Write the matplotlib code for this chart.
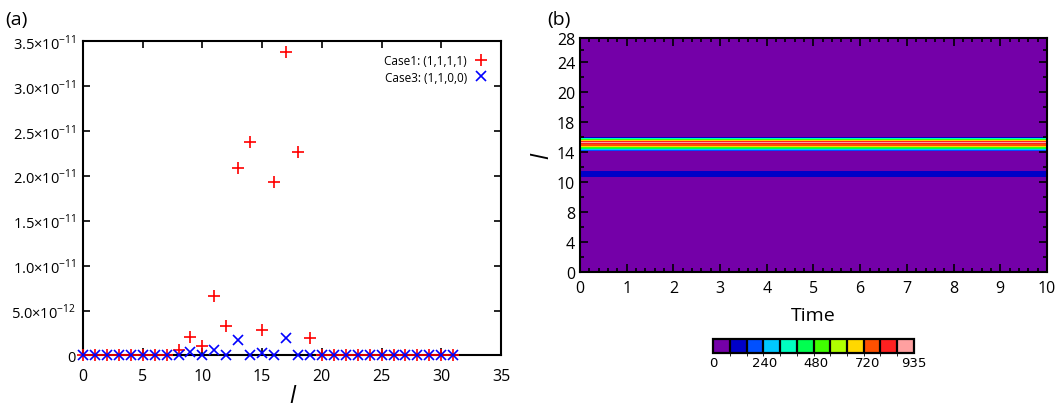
import numpy as np
import matplotlib
matplotlib.use("Agg")
import matplotlib.pyplot as plt
from matplotlib.colors import ListedColormap, BoundaryNorm
from matplotlib.ticker import MultipleLocator

plt.rcParams['font.family'] = ['Open Sans', 'DejaVu Sans']
plt.rcParams['mathtext.fontset'] = 'custom'
plt.rcParams['mathtext.rm'] = 'Open Sans'

# ---- panel (a) data ----
l_vals = np.arange(32)
case1 = np.zeros(32)
case1[8:20] = [0.56e-12, 2.1e-12, 1.1e-12, 6.57e-12, 3.3e-12, 2.09e-11,
               2.38e-11, 2.86e-12, 1.93e-11, 3.38e-11, 2.27e-11, 1.97e-12]
case3 = np.zeros(32)
case3[8:20] = [0, 0.37e-12, 0, 0.56e-12, 0, 1.67e-12,
               0, 0.3e-12, 0, 1.93e-12, 0, 0.07e-12]
yticks_a = [0, 5e-12, 1e-11, 1.5e-11, 2e-11, 2.5e-11, 3e-11, 3.5e-11]
ylabels_a = ['0', '5.0×10$^{-12}$', '1.0×10$^{-11}$', '1.5×10$^{-11}$',
             '2.0×10$^{-11}$', '2.5×10$^{-11}$', '3.0×10$^{-11}$', '3.5×10$^{-11}$']

# ---- panel (b) data ----
time_edges = [0, 10]
row_edges = [0, 11.38, 12.10, 14.49, 14.62, 14.75, 14.88, 15.01, 15.14, 15.27,
             15.40, 15.53, 15.66, 15.79, 15.92, 16.05, 16.17, 28]
row_vals = [0, 120, 0, 200, 300, 420, 520, 650, 720, 800, 920, 830, 680,
            520, 330, 150, 0]
ytick_pos_b = [0, 3.6, 7.2, 10.8, 14.4, 18, 21.6, 25.2, 28]
ytick_lab_b = ['0', '4', '8', '10', '14', '18', '20', '24', '28']
cmap_colors = ['#7400a8', '#0000c8', '#0050ff', '#00c8ff', '#00ffc0', '#00ff50',
               '#40ff00', '#b0ff00', '#ffd800', '#ff5000', '#ff2020', '#ffa0a0']
cbar_ticks = [0, 240, 480, 720, 935]

fig = plt.figure(figsize=(10.57, 4.10), dpi=100)

# panel (a)
ax = fig.add_axes([0.0785, 0.1305, 0.3955, 0.767])
ax.plot(l_vals, case1, ls='none', marker='+', color='#ff0000', ms=9, mew=1.2,
        clip_on=False, label='Case1: (1,1,1,1)', zorder=3)
ax.plot(l_vals, case3, ls='none', marker='x', color='#0000ff', ms=7, mew=1.2,
        clip_on=False, label='Case3: (1,1,0,0)', zorder=4)
ax.set_xlim(0, 35)
ax.set_ylim(0, 3.5e-11)
ax.set_xticks(range(0, 36, 5))
ax.set_yticks(yticks_a)
ax.set_yticklabels(ylabels_a)
ax.tick_params(direction='in', top=True, right=True, length=5, width=1.2,
               labelsize=10.5, pad=5)
ax.tick_params(axis='x', labelsize=11.5, pad=9)
for s in ax.spines.values():
    s.set_linewidth(1.5)
ax.set_xlabel('l', style='italic', fontsize=17, labelpad=0)
ax.legend(loc='upper right', markerfirst=False, frameon=False, fontsize=8.5,
          handlelength=1.2, handletextpad=0.6, labelspacing=0.3,
          borderaxespad=0.7)
fig.text(0.005, 0.94, '(a)', fontsize=14)

# panel (b)
cmap = ListedColormap(cmap_colors)
norm = BoundaryNorm(np.linspace(0, 935, 13), cmap.N)
bx = fig.add_axes([0.5487, 0.3349, 0.4418, 0.5692])
Z = np.array(row_vals, dtype=float).reshape(-1, 1)
mesh = bx.pcolormesh(time_edges, row_edges, Z, cmap=cmap, norm=norm,
                     shading='flat')
bx.set_xlim(0, 10)
bx.set_ylim(0, 28)
bx.set_xticks(range(0, 11))
bx.xaxis.set_minor_locator(MultipleLocator(0.2))
bx.set_yticks(ytick_pos_b)
bx.set_yticklabels(ytick_lab_b)
bx.set_yticks([1.8, 5.4, 9.0, 12.6, 16.2, 19.8, 23.4, 26.6], minor=True)
bx.tick_params(which='both', direction='in', top=True, right=True,
               width=1.2, labelsize=11.5)
bx.tick_params(axis='x', pad=6)
bx.tick_params(which='major', length=6)
bx.tick_params(which='minor', length=3)
for s in bx.spines.values():
    s.set_linewidth(1.5)
bx.set_xlabel('Time', fontsize=14, labelpad=7)
bx.set_ylabel('l', style='italic', fontsize=17, labelpad=2)
fig.text(0.518, 0.94, '(b)', fontsize=14)

cax = fig.add_axes([0.6746, 0.1366, 0.1901, 0.034])
cb = fig.colorbar(mesh, cax=cax, orientation='horizontal', drawedges=True)
cb.outline.set_linewidth(1.6)
cb.dividers.set_linewidth(1.6)
cb.set_ticks(cbar_ticks)
cb.ax.tick_params(length=0, labelsize=9.5, pad=2)
for t in cb.ax.get_xticklabels():
    t.set_family('DejaVu Sans')

fig.savefig('out.png', dpi=100)
